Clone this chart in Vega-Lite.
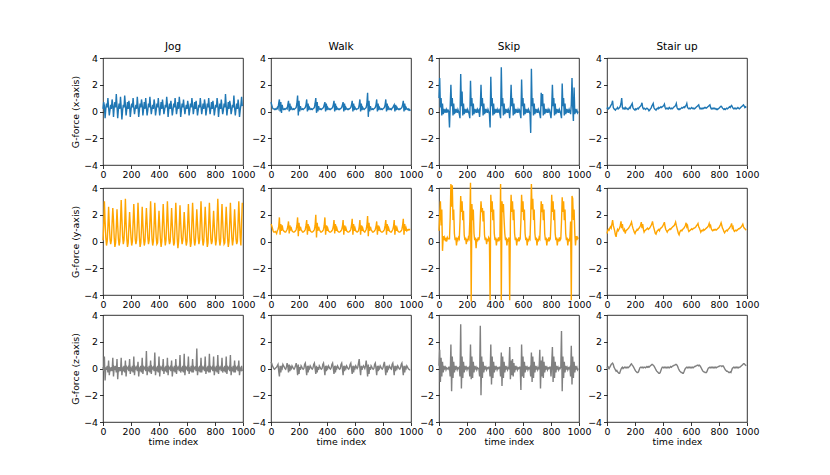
{
  "$schema": "https://vega.github.io/schema/vega-lite/v6.json",
  "background": "white",
  "padding": {"left": 70, "top": 41, "right": 5, "bottom": 5},
  "datasets": {
    "jog": [
      {"t":0,"x":0.2,"y":0.1,"z":0.1},{"t":5,"x":0.7,"y":1.2,"z":-0.2},{"t":10,"x":0.4,"y":3.0,"z":0.9},{"t":15,"x":-0.5,"y":1.5,"z":-0.9},{"t":20,"x":0.2,"y":0.3,"z":0.1},{"t":25,"x":0.6,"y":-0.3,"z":-0.1},
      {"t":30,"x":0.3,"y":0.0,"z":0.2},{"t":35,"x":1.0,"y":1.1,"z":-0.3},{"t":40,"x":0.3,"y":2.6,"z":0.6},{"t":45,"x":-0.3,"y":1.3,"z":-0.5},{"t":50,"x":0.1,"y":0.2,"z":0.0},{"t":55,"x":0.5,"y":-0.2,"z":-0.1},
      {"t":60,"x":0.2,"y":0.1,"z":0.1},{"t":65,"x":0.9,"y":1.4,"z":-0.2},{"t":70,"x":0.5,"y":2.5,"z":0.8},{"t":75,"x":-0.4,"y":1.6,"z":-0.6},{"t":80,"x":0.3,"y":0.3,"z":0.1},{"t":85,"x":0.7,"y":-0.4,"z":0.0},
      {"t":90,"x":0.3,"y":-0.1,"z":0.2},{"t":95,"x":1.3,"y":1.0,"z":-0.3},{"t":100,"x":0.4,"y":2.4,"z":0.7},{"t":105,"x":-0.5,"y":1.2,"z":-0.8},{"t":110,"x":0.2,"y":0.2,"z":0.1},{"t":115,"x":0.6,"y":-0.3,"z":-0.1},
      {"t":120,"x":0.2,"y":0.0,"z":0.1},{"t":125,"x":1.1,"y":1.5,"z":-0.2},{"t":130,"x":0.3,"y":3.1,"z":0.8},{"t":135,"x":-0.6,"y":1.7,"z":-0.5},{"t":140,"x":0.1,"y":0.4,"z":0.0},{"t":145,"x":0.5,"y":-0.2,"z":-0.1},
      {"t":150,"x":0.3,"y":0.1,"z":0.2},{"t":155,"x":1.2,"y":1.3,"z":-0.3},{"t":160,"x":0.5,"y":3.2,"z":0.6},{"t":165,"x":-0.3,"y":1.4,"z":-0.6},{"t":170,"x":0.2,"y":0.2,"z":0.1},{"t":175,"x":0.7,"y":-0.4,"z":0.0},
      {"t":180,"x":0.2,"y":-0.1,"z":0.1},{"t":185,"x":0.8,"y":1.1,"z":-0.2},{"t":190,"x":0.4,"y":2.2,"z":0.7},{"t":195,"x":-0.4,"y":1.2,"z":-0.4},{"t":200,"x":0.1,"y":0.3,"z":0.0},{"t":205,"x":0.6,"y":-0.3,"z":-0.1},
      {"t":210,"x":0.3,"y":0.0,"z":0.2},{"t":215,"x":1.0,"y":1.4,"z":-0.3},{"t":220,"x":0.3,"y":2.8,"z":0.9},{"t":225,"x":-0.2,"y":1.5,"z":-0.5},{"t":230,"x":0.2,"y":0.2,"z":0.1},{"t":235,"x":0.5,"y":-0.2,"z":0.0},
      {"t":240,"x":0.2,"y":0.1,"z":0.1},{"t":245,"x":1.1,"y":1.2,"z":-0.2},{"t":250,"x":0.4,"y":2.9,"z":0.5},{"t":255,"x":-0.4,"y":1.6,"z":-0.6},{"t":260,"x":0.1,"y":0.3,"z":0.0},{"t":265,"x":0.6,"y":-0.4,"z":-0.1},
      {"t":270,"x":0.3,"y":-0.1,"z":0.2},{"t":275,"x":0.9,"y":1.0,"z":-0.3},{"t":280,"x":0.5,"y":2.6,"z":0.8},{"t":285,"x":-0.3,"y":1.3,"z":-0.4},{"t":290,"x":0.2,"y":0.2,"z":0.1},{"t":295,"x":0.7,"y":-0.3,"z":0.0},
      {"t":300,"x":0.2,"y":0.0,"z":0.1},{"t":305,"x":1.0,"y":1.3,"z":-0.2},{"t":310,"x":0.3,"y":2.5,"z":1.3},{"t":315,"x":-0.3,"y":1.4,"z":-0.5},{"t":320,"x":0.1,"y":0.3,"z":0.0},{"t":325,"x":0.6,"y":-0.2,"z":-0.1},
      {"t":330,"x":0.3,"y":0.1,"z":0.2},{"t":335,"x":1.1,"y":1.5,"z":-0.3},{"t":340,"x":0.4,"y":3.0,"z":0.6},{"t":345,"x":-0.2,"y":1.6,"z":-0.4},{"t":350,"x":0.2,"y":0.2,"z":0.1},{"t":355,"x":0.5,"y":-0.3,"z":0.0},
      {"t":360,"x":0.2,"y":0.0,"z":0.1},{"t":365,"x":0.9,"y":1.2,"z":-0.2},{"t":370,"x":0.5,"y":2.9,"z":1.2},{"t":375,"x":-0.3,"y":1.5,"z":-0.5},{"t":380,"x":0.1,"y":0.3,"z":0.0},{"t":385,"x":0.6,"y":-0.2,"z":-0.1},
      {"t":390,"x":0.3,"y":-0.1,"z":0.2},{"t":395,"x":1.0,"y":1.1,"z":-0.3},{"t":400,"x":0.3,"y":2.3,"z":0.9},{"t":405,"x":-0.3,"y":1.2,"z":-0.6},{"t":410,"x":0.2,"y":0.2,"z":0.1},{"t":415,"x":0.7,"y":-0.4,"z":0.0},
      {"t":420,"x":0.2,"y":0.0,"z":0.1},{"t":425,"x":0.9,"y":1.4,"z":-0.2},{"t":430,"x":0.4,"y":2.8,"z":0.7},{"t":435,"x":-0.2,"y":1.5,"z":-0.4},{"t":440,"x":0.1,"y":0.3,"z":0.0},{"t":445,"x":0.5,"y":-0.3,"z":-0.1},
      {"t":450,"x":0.3,"y":0.1,"z":0.2},{"t":455,"x":1.1,"y":1.5,"z":-0.3},{"t":460,"x":0.5,"y":3.0,"z":0.8},{"t":465,"x":-0.4,"y":1.6,"z":-0.5},{"t":470,"x":0.2,"y":0.2,"z":0.1},{"t":475,"x":0.6,"y":-0.2,"z":0.0},
      {"t":480,"x":0.2,"y":0.0,"z":0.1},{"t":485,"x":0.8,"y":1.2,"z":-0.2},{"t":490,"x":0.3,"y":2.5,"z":0.6},{"t":495,"x":-0.3,"y":1.3,"z":-0.6},{"t":500,"x":0.1,"y":0.3,"z":0.0},{"t":505,"x":0.6,"y":-0.3,"z":-0.1},
      {"t":510,"x":0.3,"y":-0.1,"z":0.2},{"t":515,"x":1.0,"y":1.4,"z":-0.3},{"t":520,"x":0.4,"y":2.9,"z":0.7},{"t":525,"x":-0.2,"y":1.5,"z":-0.4},{"t":530,"x":0.2,"y":0.2,"z":0.1},{"t":535,"x":0.7,"y":-0.5,"z":0.0},
      {"t":540,"x":0.2,"y":0.0,"z":0.1},{"t":545,"x":1.1,"y":1.3,"z":-0.2},{"t":550,"x":0.5,"y":2.7,"z":1.0},{"t":555,"x":-0.4,"y":1.4,"z":-0.3},{"t":560,"x":0.1,"y":0.3,"z":0.0},{"t":565,"x":0.6,"y":-0.2,"z":-0.1},
      {"t":570,"x":0.3,"y":0.1,"z":0.2},{"t":575,"x":0.9,"y":1.0,"z":-0.3},{"t":580,"x":0.3,"y":2.2,"z":1.1},{"t":585,"x":-0.2,"y":1.2,"z":-0.5},{"t":590,"x":0.2,"y":0.2,"z":0.1},{"t":595,"x":0.5,"y":-0.3,"z":0.0},
      {"t":600,"x":0.2,"y":0.0,"z":0.1},{"t":605,"x":0.8,"y":1.4,"z":-0.2},{"t":610,"x":0.4,"y":2.8,"z":0.9},{"t":615,"x":-0.3,"y":1.5,"z":-0.4},{"t":620,"x":0.1,"y":0.3,"z":0.0},{"t":625,"x":0.6,"y":-0.4,"z":-0.1},
      {"t":630,"x":0.3,"y":-0.1,"z":0.2},{"t":635,"x":1.0,"y":1.5,"z":-0.3},{"t":640,"x":0.5,"y":2.9,"z":0.7},{"t":645,"x":-0.2,"y":1.6,"z":-0.3},{"t":650,"x":0.2,"y":0.2,"z":0.1},{"t":655,"x":0.7,"y":-0.3,"z":0.0},
      {"t":660,"x":0.2,"y":0.0,"z":0.1},{"t":665,"x":0.8,"y":1.2,"z":-0.2},{"t":670,"x":0.3,"y":2.4,"z":1.5},{"t":675,"x":-0.3,"y":1.3,"z":-0.5},{"t":680,"x":0.1,"y":0.3,"z":0.0},{"t":685,"x":0.5,"y":-0.2,"z":-0.1},
      {"t":690,"x":0.3,"y":0.1,"z":0.2},{"t":695,"x":1.0,"y":1.5,"z":-0.3},{"t":700,"x":0.4,"y":3.0,"z":0.8},{"t":705,"x":-0.2,"y":1.6,"z":-0.3},{"t":710,"x":0.2,"y":0.2,"z":0.1},{"t":715,"x":0.6,"y":-0.3,"z":0.0},
      {"t":720,"x":0.2,"y":0.0,"z":0.1},{"t":725,"x":0.9,"y":1.3,"z":-0.2},{"t":730,"x":0.5,"y":2.6,"z":0.9},{"t":735,"x":-0.3,"y":1.4,"z":-0.4},{"t":740,"x":0.1,"y":0.3,"z":0.0},{"t":745,"x":0.6,"y":-0.4,"z":-0.1},
      {"t":750,"x":0.3,"y":-0.1,"z":0.2},{"t":755,"x":1.0,"y":1.4,"z":-0.3},{"t":760,"x":0.3,"y":2.9,"z":1.1},{"t":765,"x":-0.2,"y":1.5,"z":-0.3},{"t":770,"x":0.2,"y":0.2,"z":0.1},{"t":775,"x":0.7,"y":-0.2,"z":0.0},
      {"t":780,"x":0.2,"y":0.0,"z":0.1},{"t":785,"x":0.8,"y":1.1,"z":-0.2},{"t":790,"x":0.4,"y":2.3,"z":0.9},{"t":795,"x":-0.3,"y":1.2,"z":-0.5},{"t":800,"x":0.1,"y":0.3,"z":0.0},{"t":805,"x":0.5,"y":-0.3,"z":-0.1},
      {"t":810,"x":0.3,"y":0.1,"z":0.2},{"t":815,"x":1.0,"y":1.6,"z":-0.3},{"t":820,"x":0.5,"y":3.2,"z":1.0},{"t":825,"x":-0.4,"y":1.7,"z":-0.4},{"t":830,"x":0.2,"y":0.2,"z":0.1},{"t":835,"x":0.6,"y":-0.3,"z":0.0},
      {"t":840,"x":0.2,"y":0.0,"z":0.1},{"t":845,"x":0.9,"y":1.4,"z":-0.2},{"t":850,"x":0.3,"y":2.8,"z":0.8},{"t":855,"x":-0.2,"y":1.5,"z":-0.3},{"t":860,"x":0.1,"y":0.3,"z":0.0},{"t":865,"x":0.6,"y":-0.2,"z":-0.1},
      {"t":870,"x":0.3,"y":-0.1,"z":0.2},{"t":875,"x":1.3,"y":1.3,"z":-0.3},{"t":880,"x":0.4,"y":2.6,"z":0.9},{"t":885,"x":-0.3,"y":1.4,"z":-0.4},{"t":890,"x":0.2,"y":0.2,"z":0.1},{"t":895,"x":0.7,"y":-0.4,"z":0.0},
      {"t":900,"x":0.2,"y":0.0,"z":0.1},{"t":905,"x":0.8,"y":1.4,"z":-0.2},{"t":910,"x":0.5,"y":2.9,"z":1.0},{"t":915,"x":-0.2,"y":1.5,"z":-0.5},{"t":920,"x":0.1,"y":0.3,"z":0.0},{"t":925,"x":0.5,"y":-0.3,"z":-0.1},
      {"t":930,"x":0.3,"y":0.1,"z":0.2},{"t":935,"x":1.2,"y":1.2,"z":-0.3},{"t":940,"x":0.3,"y":2.4,"z":0.6},{"t":945,"x":-0.3,"y":1.3,"z":-0.3},{"t":950,"x":0.2,"y":0.2,"z":0.1},{"t":955,"x":0.6,"y":-0.2,"z":0.0},
      {"t":960,"x":0.2,"y":0.0,"z":0.1},{"t":965,"x":0.9,"y":1.5,"z":-0.2},{"t":970,"x":0.4,"y":3.0,"z":0.6},{"t":975,"x":-0.4,"y":1.6,"z":-0.5},{"t":980,"x":0.1,"y":0.3,"z":0.0},{"t":985,"x":0.5,"y":-0.3,"z":-0.1},
      {"t":990,"x":1.1,"y":1.4,"z":0.2},{"t":995,"x":0.4,"y":2.9,"z":-0.2}
    ],
    "walk": [
      {"t":0,"x":0.7,"y":1.3,"z":0.5},{"t":5,"x":0.5,"y":1.2,"z":0.4},{"t":10,"x":0.3,"y":1.0,"z":0.2},{"t":15,"x":0.2,"y":0.8,"z":0.1},{"t":20,"x":0.2,"y":0.7,"z":0.0},{"t":25,"x":0.15,"y":0.7,"z":-0.05},
      {"t":30,"x":0.2,"y":0.75,"z":0.0},{"t":35,"x":0.15,"y":0.7,"z":0.05},{"t":40,"x":0.2,"y":0.6,"z":0.1},{"t":45,"x":0.3,"y":0.8,"z":0.2},{"t":50,"x":0.2,"y":0.9,"z":0.3},{"t":55,"x":0.6,"y":1.1,"z":-0.2},
      {"t":60,"x":0.9,"y":1.8,"z":-0.6},{"t":65,"x":0.0,"y":0.5,"z":0.2},{"t":70,"x":0.7,"y":1.3,"z":-0.3},{"t":75,"x":-0.1,"y":0.8,"z":0.1},{"t":80,"x":0.5,"y":1.2,"z":0.0},{"t":85,"x":0.2,"y":0.9,"z":0.3},
      {"t":90,"x":0.15,"y":0.8,"z":0.2},{"t":95,"x":0.2,"y":0.75,"z":0.1},{"t":100,"x":0.15,"y":0.7,"z":0.0},{"t":105,"x":0.2,"y":0.7,"z":-0.05},{"t":110,"x":0.25,"y":0.8,"z":0.1},{"t":115,"x":0.2,"y":0.9,"z":0.4},
      {"t":120,"x":0.5,"y":1.1,"z":0.2},{"t":125,"x":0.8,"y":1.5,"z":-0.3},{"t":130,"x":0.0,"y":0.6,"z":0.3},{"t":135,"x":0.6,"y":1.2,"z":-0.2},{"t":140,"x":0.1,"y":0.9,"z":0.1},{"t":145,"x":0.3,"y":1.0,"z":0.0},
      {"t":150,"x":0.2,"y":0.8,"z":0.2},{"t":155,"x":0.15,"y":0.75,"z":0.1},{"t":160,"x":0.2,"y":0.7,"z":0.0},{"t":165,"x":0.15,"y":0.7,"z":-0.05},{"t":170,"x":0.2,"y":0.75,"z":0.05},{"t":175,"x":0.25,"y":0.8,"z":0.2},
      {"t":180,"x":0.3,"y":0.9,"z":0.4},{"t":185,"x":0.6,"y":1.2,"z":0.1},{"t":190,"x":1.2,"y":1.8,"z":-0.5},{"t":195,"x":-0.3,"y":0.4,"z":0.3},{"t":200,"x":0.8,"y":1.4,"z":-0.4},{"t":205,"x":0.0,"y":0.8,"z":0.1},
      {"t":210,"x":0.4,"y":1.1,"z":-0.1},{"t":215,"x":0.2,"y":0.9,"z":0.2},{"t":220,"x":0.15,"y":0.8,"z":0.1},{"t":225,"x":0.2,"y":0.7,"z":0.0},{"t":230,"x":0.15,"y":0.7,"z":-0.05},{"t":235,"x":0.2,"y":0.75,"z":0.0},
      {"t":240,"x":0.25,"y":0.8,"z":0.3},{"t":245,"x":0.3,"y":0.9,"z":0.4},{"t":250,"x":0.5,"y":1.2,"z":0.0},{"t":255,"x":0.9,"y":1.6,"z":-0.5},{"t":260,"x":0.0,"y":0.5,"z":0.2},{"t":265,"x":0.6,"y":1.3,"z":-0.3},
      {"t":270,"x":0.1,"y":0.8,"z":0.1},{"t":275,"x":0.3,"y":1.0,"z":0.0},{"t":280,"x":0.2,"y":0.8,"z":0.2},{"t":285,"x":0.15,"y":0.75,"z":0.1},{"t":290,"x":0.2,"y":0.7,"z":0.0},{"t":295,"x":0.15,"y":0.7,"z":-0.05},
      {"t":300,"x":0.2,"y":0.75,"z":0.05},{"t":305,"x":0.25,"y":0.8,"z":0.3},{"t":310,"x":0.3,"y":0.9,"z":0.4},{"t":315,"x":0.6,"y":1.2,"z":0.0},{"t":320,"x":1.0,"y":2.0,"z":-0.4},{"t":325,"x":-0.1,"y":0.3,"z":0.2},
      {"t":330,"x":0.7,"y":1.4,"z":-0.3},{"t":335,"x":0.0,"y":0.8,"z":0.1},{"t":340,"x":0.4,"y":1.1,"z":-0.1},{"t":345,"x":0.2,"y":0.9,"z":0.2},{"t":350,"x":0.15,"y":0.8,"z":0.1},{"t":355,"x":0.2,"y":0.7,"z":0.0},
      {"t":360,"x":0.15,"y":0.7,"z":-0.05},{"t":365,"x":0.2,"y":0.75,"z":0.0},{"t":370,"x":0.25,"y":0.8,"z":0.3},{"t":375,"x":0.3,"y":0.9,"z":0.4},{"t":380,"x":0.5,"y":1.2,"z":0.0},{"t":385,"x":0.7,"y":1.8,"z":-0.5},
      {"t":390,"x":0.0,"y":0.5,"z":0.2},{"t":395,"x":0.6,"y":1.2,"z":-0.2},{"t":400,"x":0.1,"y":0.8,"z":0.1},{"t":405,"x":0.3,"y":1.0,"z":0.0},{"t":410,"x":0.2,"y":0.8,"z":0.2},{"t":415,"x":0.15,"y":0.75,"z":0.1},
      {"t":420,"x":0.2,"y":0.7,"z":0.0},{"t":425,"x":0.15,"y":0.7,"z":-0.05},{"t":430,"x":0.2,"y":0.75,"z":0.05},{"t":435,"x":0.25,"y":0.8,"z":0.3},{"t":440,"x":0.3,"y":0.9,"z":0.4},{"t":445,"x":0.5,"y":1.1,"z":0.0},
      {"t":450,"x":0.8,"y":1.6,"z":-0.4},{"t":455,"x":0.0,"y":0.6,"z":0.2},{"t":460,"x":0.6,"y":1.3,"z":-0.3},{"t":465,"x":0.1,"y":0.8,"z":0.1},{"t":470,"x":0.3,"y":1.0,"z":0.0},{"t":475,"x":0.2,"y":0.8,"z":0.2},
      {"t":480,"x":0.15,"y":0.75,"z":0.1},{"t":485,"x":0.2,"y":0.7,"z":0.0},{"t":490,"x":0.15,"y":0.7,"z":-0.05},{"t":495,"x":0.2,"y":0.75,"z":0.0},{"t":500,"x":0.25,"y":0.8,"z":0.3},{"t":505,"x":0.3,"y":0.9,"z":0.4},
      {"t":510,"x":0.5,"y":1.1,"z":0.0},{"t":515,"x":0.7,"y":1.6,"z":-0.5},{"t":520,"x":0.0,"y":0.5,"z":0.2},{"t":525,"x":0.6,"y":1.2,"z":-0.2},{"t":530,"x":0.1,"y":0.8,"z":0.1},{"t":535,"x":0.3,"y":1.0,"z":0.0},
      {"t":540,"x":0.2,"y":0.8,"z":0.2},{"t":545,"x":0.15,"y":0.75,"z":0.1},{"t":550,"x":0.2,"y":0.7,"z":0.0},{"t":555,"x":0.15,"y":0.7,"z":-0.05},{"t":560,"x":0.2,"y":0.75,"z":0.05},{"t":565,"x":0.25,"y":0.8,"z":0.3},
      {"t":570,"x":0.3,"y":0.9,"z":0.4},{"t":575,"x":0.5,"y":1.2,"z":0.0},{"t":580,"x":0.8,"y":1.7,"z":-0.4},{"t":585,"x":0.0,"y":0.5,"z":0.2},{"t":590,"x":0.6,"y":1.3,"z":-0.3},{"t":595,"x":0.1,"y":0.8,"z":0.1},
      {"t":600,"x":0.3,"y":1.0,"z":0.0},{"t":605,"x":0.2,"y":0.8,"z":0.2},{"t":610,"x":0.15,"y":0.75,"z":0.1},{"t":615,"x":0.2,"y":0.7,"z":0.0},{"t":620,"x":0.2,"y":0.75,"z":0.1},{"t":625,"x":0.25,"y":0.8,"z":0.4},
      {"t":630,"x":0.5,"y":1.1,"z":0.7},{"t":635,"x":0.9,"y":1.6,"z":0.0},{"t":640,"x":0.0,"y":0.5,"z":-0.5},{"t":645,"x":0.6,"y":1.2,"z":0.2},{"t":650,"x":0.1,"y":0.8,"z":-0.1},{"t":655,"x":0.3,"y":1.0,"z":0.1},
      {"t":660,"x":0.2,"y":0.8,"z":0.2},{"t":665,"x":0.15,"y":0.75,"z":0.1},{"t":670,"x":0.2,"y":0.7,"z":0.0},{"t":675,"x":0.25,"y":0.8,"z":0.2},{"t":680,"x":0.3,"y":0.9,"z":0.6},{"t":685,"x":0.6,"y":1.2,"z":0.1},
      {"t":690,"x":1.4,"y":1.9,"z":-0.6},{"t":695,"x":-0.4,"y":0.4,"z":0.3},{"t":700,"x":0.8,"y":1.4,"z":-0.4},{"t":705,"x":0.0,"y":0.8,"z":0.1},{"t":710,"x":0.4,"y":1.1,"z":-0.1},{"t":715,"x":0.2,"y":0.9,"z":0.2},
      {"t":720,"x":0.15,"y":0.8,"z":0.1},{"t":725,"x":0.2,"y":0.7,"z":0.0},{"t":730,"x":0.15,"y":0.7,"z":-0.05},{"t":735,"x":0.2,"y":0.75,"z":0.0},{"t":740,"x":0.25,"y":0.8,"z":0.3},{"t":745,"x":0.3,"y":0.9,"z":0.4},
      {"t":750,"x":0.5,"y":1.1,"z":0.0},{"t":755,"x":0.9,"y":1.5,"z":-0.5},{"t":760,"x":0.0,"y":0.5,"z":0.2},{"t":765,"x":0.6,"y":1.2,"z":-0.2},{"t":770,"x":0.1,"y":0.8,"z":0.1},{"t":775,"x":0.3,"y":1.0,"z":0.0},
      {"t":780,"x":0.2,"y":0.8,"z":0.2},{"t":785,"x":0.15,"y":0.75,"z":0.1},{"t":790,"x":0.2,"y":0.7,"z":0.0},{"t":795,"x":0.15,"y":0.7,"z":-0.05},{"t":800,"x":0.2,"y":0.75,"z":0.05},{"t":805,"x":0.25,"y":0.8,"z":0.3},
      {"t":810,"x":0.3,"y":0.9,"z":0.5},{"t":815,"x":0.5,"y":1.2,"z":0.0},{"t":820,"x":0.9,"y":1.6,"z":-0.5},{"t":825,"x":0.0,"y":0.5,"z":0.2},{"t":830,"x":0.6,"y":1.3,"z":-0.3},{"t":835,"x":0.1,"y":0.8,"z":0.1},
      {"t":840,"x":0.3,"y":1.0,"z":0.0},{"t":845,"x":0.2,"y":0.8,"z":0.2},{"t":850,"x":0.15,"y":0.75,"z":0.1},{"t":855,"x":0.2,"y":0.7,"z":0.0},{"t":860,"x":0.15,"y":0.7,"z":-0.05},{"t":865,"x":0.25,"y":0.8,"z":0.3},
      {"t":870,"x":0.3,"y":0.9,"z":0.4},{"t":875,"x":0.4,"y":1.1,"z":0.0},{"t":880,"x":0.5,"y":1.6,"z":-0.5},{"t":885,"x":0.0,"y":0.5,"z":0.2},{"t":890,"x":0.5,"y":1.2,"z":-0.2},{"t":895,"x":0.1,"y":0.8,"z":0.1},
      {"t":900,"x":0.3,"y":1.0,"z":0.0},{"t":905,"x":0.2,"y":0.8,"z":0.2},{"t":910,"x":0.15,"y":0.75,"z":0.1},{"t":915,"x":0.2,"y":0.7,"z":0.0},{"t":920,"x":0.15,"y":0.7,"z":-0.05},{"t":925,"x":0.2,"y":0.75,"z":0.05},
      {"t":930,"x":0.25,"y":0.8,"z":0.3},{"t":935,"x":0.3,"y":0.9,"z":0.4},{"t":940,"x":0.5,"y":1.2,"z":0.0},{"t":945,"x":0.8,"y":1.7,"z":-0.5},{"t":950,"x":0.0,"y":0.5,"z":0.2},{"t":955,"x":0.6,"y":1.3,"z":-0.3},
      {"t":960,"x":0.1,"y":0.8,"z":0.1},{"t":965,"x":0.3,"y":1.0,"z":0.0},{"t":970,"x":0.2,"y":0.8,"z":0.2},{"t":975,"x":0.15,"y":0.85,"z":0.1},{"t":980,"x":0.2,"y":0.9,"z":0.0},{"t":985,"x":0.1,"y":0.85,"z":-0.05},
      {"t":990,"x":0.15,"y":0.9,"z":-0.1},{"t":995,"x":0.05,"y":0.9,"z":-0.1}
    ],
    "skip": [
      {"t":0,"x":1.0,"y":0.8,"z":0.2},{"t":5,"x":2.5,"y":2.0,"z":1.4},{"t":10,"x":0.3,"y":3.0,"z":-1.0},{"t":15,"x":1.0,"y":1.2,"z":0.8},{"t":20,"x":-0.3,"y":2.4,"z":-0.6},{"t":25,"x":0.6,"y":-0.7,"z":0.5},
      {"t":30,"x":-0.2,"y":0.4,"z":-0.3},{"t":35,"x":0.2,"y":0.1,"z":0.2},{"t":40,"x":0.0,"y":0.3,"z":0.0},{"t":45,"x":0.1,"y":0.1,"z":0.1},{"t":50,"x":-0.1,"y":0.2,"z":-0.1},{"t":55,"x":0.15,"y":0.0,"z":0.05},
      {"t":60,"x":0.0,"y":0.3,"z":0.0},{"t":65,"x":0.1,"y":0.2,"z":-0.05},{"t":70,"x":0.0,"y":0.2,"z":0.1},{"t":75,"x":-1.2,"y":0.2,"z":0.1},{"t":80,"x":0.4,"y":1.8,"z":-0.6},{"t":85,"x":2.0,"y":4.3,"z":1.8},
      {"t":90,"x":0.4,"y":2.6,"z":-1.7},{"t":95,"x":1.0,"y":4.2,"z":0.9},{"t":100,"x":-0.3,"y":1.6,"z":-0.7},{"t":105,"x":0.6,"y":2.4,"z":0.5},{"t":110,"x":-0.2,"y":0.6,"z":-0.3},{"t":115,"x":0.2,"y":0.1,"z":0.2},
      {"t":120,"x":0.0,"y":0.3,"z":0.0},{"t":125,"x":0.1,"y":-0.3,"z":0.1},{"t":130,"x":-0.1,"y":0.2,"z":-0.1},{"t":135,"x":0.15,"y":0.1,"z":0.05},{"t":140,"x":0.0,"y":0.3,"z":0.0},{"t":145,"x":-0.2,"y":0.2,"z":0.1},
      {"t":150,"x":-0.5,"y":1.5,"z":-0.6},{"t":155,"x":2.8,"y":3.4,"z":3.3},{"t":160,"x":0.4,"y":2.2,"z":-1.5},{"t":165,"x":1.5,"y":3.0,"z":0.9},{"t":170,"x":-0.3,"y":1.6,"z":-0.7},{"t":175,"x":0.6,"y":2.3,"z":0.5},
      {"t":180,"x":-0.2,"y":0.5,"z":-0.3},{"t":185,"x":0.2,"y":0.1,"z":0.2},{"t":190,"x":0.0,"y":0.3,"z":0.0},{"t":195,"x":0.1,"y":-0.2,"z":0.1},{"t":200,"x":-0.1,"y":0.2,"z":-0.1},{"t":205,"x":0.15,"y":0.0,"z":0.05},
      {"t":210,"x":0.0,"y":0.3,"z":0.0},{"t":215,"x":-0.2,"y":0.2,"z":0.1},{"t":220,"x":-0.5,"y":1.5,"z":-0.6},{"t":225,"x":2.3,"y":4.4,"z":1.8},{"t":230,"x":0.4,"y":-4.5,"z":-0.8},{"t":235,"x":1.0,"y":2.8,"z":0.9},
      {"t":240,"x":-0.3,"y":1.6,"z":-0.7},{"t":245,"x":0.6,"y":2.4,"z":0.5},{"t":250,"x":-0.2,"y":0.6,"z":-0.3},{"t":255,"x":0.2,"y":0.1,"z":0.2},{"t":260,"x":0.0,"y":0.3,"z":0.0},{"t":265,"x":0.1,"y":-0.5,"z":0.1},
      {"t":270,"x":-0.1,"y":0.2,"z":-0.1},{"t":275,"x":0.15,"y":0.0,"z":0.05},{"t":280,"x":0.0,"y":0.3,"z":0.0},{"t":285,"x":0.1,"y":0.1,"z":0.0},{"t":290,"x":-0.4,"y":0.4,"z":-0.6},{"t":295,"x":0.3,"y":1.8,"z":3.2},
      {"t":300,"x":2.0,"y":3.0,"z":-2.0},{"t":305,"x":0.4,"y":2.2,"z":0.9},{"t":310,"x":1.0,"y":2.5,"z":-0.7},{"t":315,"x":-0.3,"y":1.5,"z":0.5},{"t":320,"x":0.6,"y":2.3,"z":-0.3},{"t":325,"x":-0.2,"y":0.5,"z":0.2},
      {"t":330,"x":0.2,"y":0.1,"z":0.0},{"t":335,"x":0.0,"y":0.3,"z":0.1},{"t":340,"x":0.1,"y":-0.2,"z":-0.1},{"t":345,"x":-0.1,"y":0.2,"z":0.05},{"t":350,"x":0.15,"y":0.0,"z":0.0},{"t":355,"x":0.0,"y":0.3,"z":0.1},
      {"t":360,"x":-0.2,"y":0.2,"z":0.1},{"t":365,"x":-1.2,"y":-4.4,"z":-0.6},{"t":370,"x":2.6,"y":3.5,"z":1.8},{"t":375,"x":0.4,"y":2.2,"z":-1.2},{"t":380,"x":1.0,"y":3.0,"z":0.9},{"t":385,"x":-0.3,"y":1.6,"z":-0.7},
      {"t":390,"x":0.6,"y":2.4,"z":0.5},{"t":395,"x":-0.2,"y":0.6,"z":-0.3},{"t":400,"x":0.2,"y":0.1,"z":0.2},{"t":405,"x":0.0,"y":0.3,"z":0.0},{"t":410,"x":0.1,"y":-0.3,"z":0.1},{"t":415,"x":-0.1,"y":0.2,"z":-0.1},
      {"t":420,"x":0.15,"y":0.0,"z":0.05},{"t":425,"x":0.0,"y":0.3,"z":0.0},{"t":430,"x":0.1,"y":0.1,"z":0.1},{"t":435,"x":-0.2,"y":0.2,"z":0.1},{"t":440,"x":-0.5,"y":4.3,"z":-0.6},{"t":445,"x":3.3,"y":-4.4,"z":1.2},
      {"t":450,"x":0.4,"y":3.0,"z":-1.3},{"t":455,"x":1.0,"y":2.2,"z":0.9},{"t":460,"x":-0.3,"y":2.8,"z":-0.7},{"t":465,"x":0.6,"y":1.6,"z":0.5},{"t":470,"x":-0.2,"y":0.6,"z":-0.3},{"t":475,"x":0.2,"y":0.1,"z":0.2},
      {"t":480,"x":0.0,"y":0.3,"z":0.0},{"t":485,"x":0.1,"y":-0.3,"z":0.1},{"t":490,"x":-0.1,"y":0.2,"z":-0.1},{"t":495,"x":0.15,"y":0.0,"z":0.05},{"t":500,"x":0.0,"y":0.3,"z":0.0},{"t":505,"x":-0.5,"y":-4.4,"z":1.6},
      {"t":510,"x":0.4,"y":1.5,"z":-0.8},{"t":515,"x":2.0,"y":3.5,"z":0.6},{"t":520,"x":0.4,"y":2.2,"z":-0.5},{"t":525,"x":1.0,"y":3.0,"z":0.7},{"t":530,"x":-0.3,"y":1.6,"z":-0.6},{"t":535,"x":0.6,"y":2.4,"z":0.4},
      {"t":540,"x":-0.2,"y":0.6,"z":-0.3},{"t":545,"x":0.2,"y":0.1,"z":0.2},{"t":550,"x":0.0,"y":0.3,"z":0.0},{"t":555,"x":0.1,"y":-0.3,"z":0.1},{"t":560,"x":-0.1,"y":0.2,"z":-0.1},{"t":565,"x":0.15,"y":0.0,"z":0.05},
      {"t":570,"x":0.0,"y":0.3,"z":0.0},{"t":575,"x":0.1,"y":0.1,"z":0.1},{"t":580,"x":-0.2,"y":0.2,"z":0.1},{"t":585,"x":-0.5,"y":1.5,"z":-1.6},{"t":590,"x":2.4,"y":3.5,"z":1.8},{"t":595,"x":0.4,"y":2.2,"z":-0.6},
      {"t":600,"x":1.0,"y":3.0,"z":0.9},{"t":605,"x":-0.3,"y":1.6,"z":-0.7},{"t":610,"x":0.6,"y":2.4,"z":0.5},{"t":615,"x":-0.2,"y":0.6,"z":-0.3},{"t":620,"x":0.2,"y":0.1,"z":0.2},{"t":625,"x":0.0,"y":0.3,"z":0.0},
      {"t":630,"x":0.1,"y":-0.3,"z":0.1},{"t":635,"x":-0.1,"y":0.2,"z":-0.1},{"t":640,"x":0.15,"y":0.0,"z":0.05},{"t":645,"x":0.0,"y":0.3,"z":0.0},{"t":650,"x":-0.2,"y":0.2,"z":0.1},{"t":655,"x":-1.6,"y":1.8,"z":-0.6},
      {"t":660,"x":3.2,"y":4.3,"z":1.2},{"t":665,"x":0.4,"y":2.4,"z":-1.0},{"t":670,"x":1.0,"y":3.2,"z":0.9},{"t":675,"x":-0.3,"y":1.6,"z":-0.7},{"t":680,"x":0.6,"y":2.4,"z":0.5},{"t":685,"x":-0.2,"y":0.6,"z":-0.3},
      {"t":690,"x":0.2,"y":0.1,"z":0.2},{"t":695,"x":0.0,"y":0.3,"z":0.0},{"t":700,"x":0.1,"y":-0.3,"z":0.1},{"t":705,"x":-0.1,"y":0.2,"z":-0.1},{"t":710,"x":0.15,"y":0.0,"z":0.05},{"t":715,"x":0.0,"y":0.3,"z":0.0},
      {"t":720,"x":-0.2,"y":0.2,"z":1.4},{"t":725,"x":-0.5,"y":1.5,"z":-1.5},{"t":730,"x":1.4,"y":3.0,"z":0.6},{"t":735,"x":0.4,"y":2.2,"z":-0.6},{"t":740,"x":1.3,"y":2.8,"z":0.9},{"t":745,"x":-0.3,"y":1.6,"z":-0.7},
      {"t":750,"x":0.6,"y":2.4,"z":0.5},{"t":755,"x":-0.2,"y":0.6,"z":-0.3},{"t":760,"x":0.2,"y":0.1,"z":0.2},{"t":765,"x":0.0,"y":0.3,"z":0.0},{"t":770,"x":0.1,"y":-0.3,"z":0.1},{"t":775,"x":-0.1,"y":0.2,"z":-0.1},
      {"t":780,"x":0.15,"y":0.0,"z":0.05},{"t":785,"x":0.0,"y":0.3,"z":0.0},{"t":790,"x":0.1,"y":0.1,"z":0.1},{"t":795,"x":-0.2,"y":0.2,"z":0.1},{"t":800,"x":-0.5,"y":1.5,"z":-0.6},{"t":805,"x":0.3,"y":3.5,"z":0.3},
      {"t":810,"x":2.0,"y":2.2,"z":1.6},{"t":815,"x":0.4,"y":3.0,"z":-1.0},{"t":820,"x":1.0,"y":1.6,"z":0.9},{"t":825,"x":-0.3,"y":2.4,"z":-0.7},{"t":830,"x":0.6,"y":0.6,"z":0.5},{"t":835,"x":-0.2,"y":0.1,"z":-0.3},
      {"t":840,"x":0.2,"y":0.3,"z":0.2},{"t":845,"x":0.0,"y":-0.3,"z":0.0},{"t":850,"x":0.1,"y":0.2,"z":0.1},{"t":855,"x":-0.1,"y":0.0,"z":-0.1},{"t":860,"x":0.15,"y":0.3,"z":0.05},{"t":865,"x":0.0,"y":0.1,"z":0.0},
      {"t":870,"x":-0.2,"y":0.2,"z":0.1},{"t":875,"x":-0.5,"y":1.5,"z":2.8},{"t":880,"x":2.1,"y":3.3,"z":-1.7},{"t":885,"x":0.4,"y":2.2,"z":0.9},{"t":890,"x":1.0,"y":3.0,"z":-0.7},{"t":895,"x":-0.3,"y":1.6,"z":0.5},
      {"t":900,"x":0.6,"y":2.4,"z":-0.3},{"t":905,"x":-0.2,"y":0.6,"z":0.2},{"t":910,"x":0.2,"y":0.1,"z":0.0},{"t":915,"x":0.0,"y":0.3,"z":0.1},{"t":920,"x":0.1,"y":-0.3,"z":-0.1},{"t":925,"x":-0.1,"y":0.2,"z":0.05},
      {"t":930,"x":0.15,"y":0.0,"z":0.0},{"t":935,"x":0.0,"y":0.3,"z":0.1},{"t":940,"x":-0.2,"y":1.5,"z":-0.6},{"t":945,"x":0.5,"y":-4.4,"z":1.7},{"t":950,"x":2.5,"y":3.4,"z":-1.2},{"t":955,"x":0.4,"y":3.2,"z":0.9},
      {"t":960,"x":-0.7,"y":1.6,"z":-0.7},{"t":965,"x":1.8,"y":2.4,"z":0.5},{"t":970,"x":-0.2,"y":0.6,"z":-0.3},{"t":975,"x":0.2,"y":-0.3,"z":0.2},{"t":980,"x":0.0,"y":0.4,"z":0.0},{"t":985,"x":0.1,"y":0.1,"z":0.1},
      {"t":990,"x":-0.1,"y":0.3,"z":-0.1},{"t":995,"x":0.0,"y":0.2,"z":0.0}
    ],
    "stair": [
      {"t":0,"x":0.2,"y":0.6,"z":0.1},{"t":5,"x":0.3,"y":0.8,"z":0.0},{"t":10,"x":0.2,"y":0.9,"z":0.1},{"t":15,"x":0.25,"y":0.85,"z":0.0},{"t":20,"x":0.3,"y":1.0,"z":0.1},{"t":25,"x":0.4,"y":1.1,"z":0.2},
      {"t":30,"x":0.5,"y":1.0,"z":0.3},{"t":35,"x":0.6,"y":1.3,"z":0.35},{"t":40,"x":0.8,"y":1.6,"z":0.4},{"t":45,"x":0.3,"y":1.2,"z":0.3},{"t":50,"x":0.2,"y":1.0,"z":0.1},{"t":55,"x":0.15,"y":0.8,"z":0.0},
      {"t":60,"x":0.1,"y":0.5,"z":-0.1},{"t":65,"x":0.2,"y":0.35,"z":-0.2},{"t":70,"x":0.2,"y":0.7,"z":-0.15},{"t":75,"x":0.3,"y":0.9,"z":-0.25},{"t":80,"x":0.2,"y":0.8,"z":-0.3},{"t":85,"x":0.25,"y":0.9,"z":-0.35},
      {"t":90,"x":0.3,"y":1.0,"z":-0.35},{"t":95,"x":0.4,"y":1.2,"z":-0.2},{"t":100,"x":0.6,"y":1.5,"z":-0.05},{"t":105,"x":1.0,"y":1.0,"z":0.05},{"t":110,"x":0.3,"y":1.3,"z":0.1},{"t":115,"x":0.2,"y":0.9,"z":0.0},
      {"t":120,"x":0.25,"y":0.8,"z":0.05},{"t":125,"x":0.2,"y":0.9,"z":0.1},{"t":130,"x":0.3,"y":0.6,"z":0.05},{"t":135,"x":0.2,"y":0.8,"z":0.1},{"t":140,"x":0.25,"y":0.85,"z":0.05},{"t":145,"x":0.2,"y":0.9,"z":0.1},
      {"t":150,"x":0.15,"y":0.95,"z":0.05},{"t":155,"x":0.2,"y":1.0,"z":0.1},{"t":160,"x":0.3,"y":1.1,"z":0.15},{"t":165,"x":0.25,"y":1.2,"z":0.2},{"t":170,"x":0.4,"y":1.3,"z":0.3},{"t":175,"x":0.5,"y":1.45,"z":0.35},
      {"t":180,"x":0.6,"y":1.2,"z":0.25},{"t":185,"x":0.3,"y":1.0,"z":0.2},{"t":190,"x":0.2,"y":0.85,"z":0.1},{"t":195,"x":0.15,"y":0.7,"z":0.0},{"t":200,"x":0.1,"y":0.6,"z":-0.1},{"t":205,"x":0.2,"y":0.75,"z":-0.2},
      {"t":210,"x":0.15,"y":0.8,"z":-0.25},{"t":215,"x":0.2,"y":0.9,"z":-0.3},{"t":220,"x":0.25,"y":0.85,"z":-0.3},{"t":225,"x":0.2,"y":0.95,"z":-0.25},{"t":230,"x":0.3,"y":1.0,"z":-0.1},{"t":235,"x":0.35,"y":1.1,"z":0.05},
      {"t":240,"x":0.4,"y":1.2,"z":0.1},{"t":245,"x":0.5,"y":1.45,"z":0.1},{"t":250,"x":0.65,"y":1.0,"z":0.05},{"t":255,"x":0.3,"y":1.3,"z":0.1},{"t":260,"x":0.2,"y":0.9,"z":0.05},{"t":265,"x":0.25,"y":0.7,"z":0.1},
      {"t":270,"x":0.2,"y":0.8,"z":0.1},{"t":275,"x":0.15,"y":0.85,"z":0.05},{"t":280,"x":0.2,"y":0.9,"z":0.1},{"t":285,"x":0.25,"y":0.95,"z":0.15},{"t":290,"x":0.2,"y":1.0,"z":0.1},{"t":295,"x":0.15,"y":0.9,"z":0.15},
      {"t":300,"x":0.05,"y":0.95,"z":0.1},{"t":305,"x":0.1,"y":1.0,"z":0.15},{"t":310,"x":0.2,"y":1.1,"z":0.2},{"t":315,"x":0.25,"y":1.2,"z":0.25},{"t":320,"x":0.4,"y":1.3,"z":0.3},{"t":325,"x":0.5,"y":1.5,"z":0.3},
      {"t":330,"x":0.6,"y":1.2,"z":0.25},{"t":335,"x":0.3,"y":1.0,"z":0.2},{"t":340,"x":0.2,"y":0.8,"z":0.1},{"t":345,"x":0.15,"y":0.6,"z":0.0},{"t":350,"x":0.1,"y":0.55,"z":-0.1},{"t":355,"x":0.2,"y":0.7,"z":-0.2},
      {"t":360,"x":0.25,"y":0.8,"z":-0.25},{"t":365,"x":0.2,"y":0.85,"z":-0.3},{"t":370,"x":0.3,"y":0.9,"z":-0.35},{"t":375,"x":0.25,"y":0.8,"z":-0.35},{"t":380,"x":0.3,"y":0.95,"z":-0.3},{"t":385,"x":0.35,"y":1.0,"z":-0.15},
      {"t":390,"x":0.3,"y":1.05,"z":0.0},{"t":395,"x":0.35,"y":1.1,"z":0.1},{"t":400,"x":0.4,"y":1.2,"z":0.1},{"t":405,"x":0.45,"y":1.3,"z":0.05},{"t":410,"x":0.55,"y":1.45,"z":0.1},{"t":415,"x":0.3,"y":1.1,"z":0.05},
      {"t":420,"x":0.2,"y":0.9,"z":0.1},{"t":425,"x":0.25,"y":0.8,"z":0.05},{"t":430,"x":0.2,"y":0.7,"z":0.1},{"t":435,"x":0.25,"y":0.8,"z":0.05},{"t":440,"x":0.2,"y":0.85,"z":0.1},{"t":445,"x":0.3,"y":0.9,"z":0.05},
      {"t":450,"x":0.25,"y":0.95,"z":0.1},{"t":455,"x":0.2,"y":0.9,"z":0.15},{"t":460,"x":0.25,"y":1.0,"z":0.1},{"t":465,"x":0.2,"y":1.05,"z":0.15},{"t":470,"x":0.25,"y":1.1,"z":0.2},{"t":475,"x":0.3,"y":1.15,"z":0.2},
      {"t":480,"x":0.35,"y":1.2,"z":0.25},{"t":485,"x":0.4,"y":1.3,"z":0.25},{"t":490,"x":0.45,"y":1.45,"z":0.3},{"t":495,"x":0.6,"y":1.2,"z":0.3},{"t":500,"x":0.3,"y":1.0,"z":0.25},{"t":505,"x":0.2,"y":0.8,"z":0.15},
      {"t":510,"x":0.15,"y":0.6,"z":0.0},{"t":515,"x":0.2,"y":0.5,"z":-0.1},{"t":520,"x":0.15,"y":0.7,"z":-0.2},{"t":525,"x":0.2,"y":0.8,"z":-0.25},{"t":530,"x":0.25,"y":0.85,"z":-0.3},{"t":535,"x":0.3,"y":0.8,"z":-0.3},
      {"t":540,"x":0.25,"y":0.9,"z":-0.35},{"t":545,"x":0.3,"y":0.95,"z":-0.35},{"t":550,"x":0.35,"y":1.0,"z":-0.25},{"t":555,"x":0.3,"y":1.1,"z":-0.1},{"t":560,"x":0.4,"y":1.2,"z":0.0},{"t":565,"x":0.45,"y":1.4,"z":0.05},
      {"t":570,"x":0.6,"y":1.1,"z":0.1},{"t":575,"x":0.3,"y":1.2,"z":0.05},{"t":580,"x":0.25,"y":0.9,"z":0.1},{"t":585,"x":0.2,"y":0.75,"z":0.05},{"t":590,"x":0.25,"y":0.8,"z":0.1},{"t":595,"x":0.2,"y":0.85,"z":0.05},
      {"t":600,"x":0.25,"y":0.9,"z":0.1},{"t":605,"x":0.3,"y":0.95,"z":0.05},{"t":610,"x":0.25,"y":0.9,"z":0.1},{"t":615,"x":0.2,"y":0.95,"z":0.05},{"t":620,"x":0.25,"y":1.0,"z":0.1},{"t":625,"x":0.2,"y":1.0,"z":0.15},
      {"t":630,"x":0.25,"y":1.05,"z":0.15},{"t":635,"x":0.3,"y":1.1,"z":0.2},{"t":640,"x":0.35,"y":1.2,"z":0.2},{"t":645,"x":0.4,"y":1.25,"z":0.25},{"t":650,"x":0.45,"y":1.35,"z":0.25},{"t":655,"x":0.5,"y":1.1,"z":0.2},
      {"t":660,"x":0.3,"y":1.0,"z":0.25},{"t":665,"x":0.2,"y":0.85,"z":0.2},{"t":670,"x":0.25,"y":0.7,"z":0.1},{"t":675,"x":0.2,"y":0.8,"z":0.0},{"t":680,"x":0.25,"y":0.85,"z":-0.1},{"t":685,"x":0.2,"y":0.8,"z":-0.2},
      {"t":690,"x":0.25,"y":0.9,"z":-0.25},{"t":695,"x":0.3,"y":0.85,"z":-0.25},{"t":700,"x":0.25,"y":0.9,"z":-0.3},{"t":705,"x":0.3,"y":0.95,"z":-0.3},{"t":710,"x":0.25,"y":1.0,"z":-0.3},{"t":715,"x":0.3,"y":1.05,"z":-0.2},
      {"t":720,"x":0.35,"y":1.1,"z":-0.05},{"t":725,"x":0.4,"y":1.2,"z":0.05},{"t":730,"x":0.45,"y":1.35,"z":0.05},{"t":735,"x":0.5,"y":1.1,"z":0.1},{"t":740,"x":0.3,"y":1.2,"z":0.05},{"t":745,"x":0.2,"y":0.95,"z":0.1},
      {"t":750,"x":0.25,"y":0.85,"z":0.05},{"t":755,"x":0.2,"y":0.8,"z":0.1},{"t":760,"x":0.25,"y":0.85,"z":0.05},{"t":765,"x":0.2,"y":0.9,"z":0.1},{"t":770,"x":0.25,"y":0.85,"z":0.05},{"t":775,"x":0.2,"y":0.9,"z":0.1},
      {"t":780,"x":0.15,"y":0.85,"z":0.05},{"t":785,"x":0.2,"y":0.9,"z":0.1},{"t":790,"x":0.15,"y":0.95,"z":0.1},{"t":795,"x":0.2,"y":1.0,"z":0.15},{"t":800,"x":0.25,"y":1.05,"z":0.15},{"t":805,"x":0.3,"y":1.15,"z":0.2},
      {"t":810,"x":0.35,"y":1.25,"z":0.2},{"t":815,"x":0.4,"y":1.4,"z":0.2},{"t":820,"x":0.35,"y":1.2,"z":0.15},{"t":825,"x":0.25,"y":1.0,"z":0.2},{"t":830,"x":0.2,"y":0.9,"z":0.2},{"t":835,"x":0.15,"y":0.75,"z":0.1},
      {"t":840,"x":0.2,"y":0.65,"z":0.0},{"t":845,"x":0.15,"y":0.75,"z":-0.1},{"t":850,"x":0.2,"y":0.8,"z":-0.15},{"t":855,"x":0.25,"y":0.85,"z":-0.2},{"t":860,"x":0.2,"y":0.8,"z":-0.2},{"t":865,"x":0.25,"y":0.9,"z":-0.25},
      {"t":870,"x":0.3,"y":0.95,"z":-0.3},{"t":875,"x":0.35,"y":1.0,"z":-0.3},{"t":880,"x":0.3,"y":1.1,"z":-0.25},{"t":885,"x":0.4,"y":1.2,"z":-0.3},{"t":890,"x":0.45,"y":1.35,"z":-0.15},{"t":895,"x":0.35,"y":1.0,"z":0.0},
      {"t":900,"x":0.25,"y":1.1,"z":0.05},{"t":905,"x":0.2,"y":0.85,"z":0.1},{"t":910,"x":0.25,"y":0.75,"z":0.05},{"t":915,"x":0.2,"y":0.8,"z":0.1},{"t":920,"x":0.25,"y":0.85,"z":0.05},{"t":925,"x":0.2,"y":0.8,"z":0.1},
      {"t":930,"x":0.25,"y":0.85,"z":0.05},{"t":935,"x":0.3,"y":0.9,"z":0.1},{"t":940,"x":0.25,"y":0.95,"z":0.05},{"t":945,"x":0.2,"y":0.95,"z":0.1},{"t":950,"x":0.25,"y":1.0,"z":0.1},{"t":955,"x":0.3,"y":1.05,"z":0.15},
      {"t":960,"x":0.35,"y":1.1,"z":0.2},{"t":965,"x":0.4,"y":1.2,"z":0.25},{"t":970,"x":0.45,"y":1.3,"z":0.3},{"t":975,"x":0.5,"y":1.1,"z":0.35},{"t":980,"x":0.4,"y":1.0,"z":0.35},{"t":985,"x":0.3,"y":0.95,"z":0.3},
      {"t":990,"x":0.35,"y":0.9,"z":0.25},{"t":995,"x":0.3,"y":0.85,"z":0.2}
    ]
  },
  "config": {
    "view": {"stroke": "black", "strokeWidth": 0.8},
    "axis": {
      "grid": false, "domain": false, "tickColor": "black", "tickSize": 3.5, "tickWidth": 0.8,
      "labelFont": "DejaVu Sans", "labelFontSize": 9.4, "labelColor": "black", "labelPadding": 2,
      "labelFlush": false, "labelOverlap": false, "labelBound": false,
      "titleFont": "DejaVu Sans", "titleFontSize": 9.4, "titleFontWeight": "normal", "titleColor": "black"
    },
    "axisX": {"values": [0, 200, 400, 600, 800, 1000], "format": "d", "titlePadding": 2},
    "axisY": {"values": [-4, -2, 0, 2, 4], "format": "d", "titlePadding": 3},
    "title": {"font": "DejaVu Sans", "fontSize": 10.5, "fontWeight": "normal", "color": "black", "offset": 1},
    "line": {"strokeWidth": 1.4, "clip": true}
  },
  "spacing": -1,
  "vconcat": [
    {
      "spacing": 28,
      "bounds": "flush",
      "hconcat": [
        {"width": 140, "height": 107, "title": "Jog", "data": {"name": "jog"}, "mark": {"type": "line", "color": "#1f77b4"},
         "encoding": {"x": {"field": "t", "type": "quantitative", "scale": {"domain": [0, 1000], "nice": false}, "axis": {"title": null}},
                      "y": {"field": "x", "type": "quantitative", "scale": {"domain": [-4, 4]}, "axis": {"title": "G-force (x-axis)"}}}},
        {"width": 140, "height": 107, "title": "Walk", "data": {"name": "walk"}, "mark": {"type": "line", "color": "#1f77b4"},
         "encoding": {"x": {"field": "t", "type": "quantitative", "scale": {"domain": [0, 1000], "nice": false}, "axis": {"title": null}},
                      "y": {"field": "x", "type": "quantitative", "scale": {"domain": [-4, 4]}, "axis": {"title": null}}}},
        {"width": 140, "height": 107, "title": "Skip", "data": {"name": "skip"}, "mark": {"type": "line", "color": "#1f77b4"},
         "encoding": {"x": {"field": "t", "type": "quantitative", "scale": {"domain": [0, 1000], "nice": false}, "axis": {"title": null}},
                      "y": {"field": "x", "type": "quantitative", "scale": {"domain": [-4, 4]}, "axis": {"title": null}}}},
        {"width": 140, "height": 107, "title": "Stair up", "data": {"name": "stair"}, "mark": {"type": "line", "color": "#1f77b4"},
         "encoding": {"x": {"field": "t", "type": "quantitative", "scale": {"domain": [0, 1000], "nice": false}, "axis": {"title": null}},
                      "y": {"field": "x", "type": "quantitative", "scale": {"domain": [-4, 4]}, "axis": {"title": null}}}}
      ]
    },
    {
      "spacing": 28,
      "bounds": "flush",
      "hconcat": [
        {"width": 140, "height": 107, "data": {"name": "jog"}, "mark": {"type": "line", "color": "orange"},
         "encoding": {"x": {"field": "t", "type": "quantitative", "scale": {"domain": [0, 1000], "nice": false}, "axis": {"title": null}},
                      "y": {"field": "y", "type": "quantitative", "scale": {"domain": [-4, 4]}, "axis": {"title": "G-force (y-axis)"}}}},
        {"width": 140, "height": 107, "data": {"name": "walk"}, "mark": {"type": "line", "color": "orange"},
         "encoding": {"x": {"field": "t", "type": "quantitative", "scale": {"domain": [0, 1000], "nice": false}, "axis": {"title": null}},
                      "y": {"field": "y", "type": "quantitative", "scale": {"domain": [-4, 4]}, "axis": {"title": null}}}},
        {"width": 140, "height": 107, "data": {"name": "skip"}, "mark": {"type": "line", "color": "orange"},
         "encoding": {"x": {"field": "t", "type": "quantitative", "scale": {"domain": [0, 1000], "nice": false}, "axis": {"title": null}},
                      "y": {"field": "y", "type": "quantitative", "scale": {"domain": [-4, 4]}, "axis": {"title": null}}}},
        {"width": 140, "height": 107, "data": {"name": "stair"}, "mark": {"type": "line", "color": "orange"},
         "encoding": {"x": {"field": "t", "type": "quantitative", "scale": {"domain": [0, 1000], "nice": false}, "axis": {"title": null}},
                      "y": {"field": "y", "type": "quantitative", "scale": {"domain": [-4, 4]}, "axis": {"title": null}}}}
      ]
    },
    {
      "spacing": 28,
      "bounds": "flush",
      "hconcat": [
        {"width": 140, "height": 107, "data": {"name": "jog"}, "mark": {"type": "line", "color": "grey"},
         "encoding": {"x": {"field": "t", "type": "quantitative", "scale": {"domain": [0, 1000], "nice": false}, "axis": {"title": "time index"}},
                      "y": {"field": "z", "type": "quantitative", "scale": {"domain": [-4, 4]}, "axis": {"title": "G-force (z-axis)"}}}},
        {"width": 140, "height": 107, "data": {"name": "walk"}, "mark": {"type": "line", "color": "grey"},
         "encoding": {"x": {"field": "t", "type": "quantitative", "scale": {"domain": [0, 1000], "nice": false}, "axis": {"title": "time index"}},
                      "y": {"field": "z", "type": "quantitative", "scale": {"domain": [-4, 4]}, "axis": {"title": null}}}},
        {"width": 140, "height": 107, "data": {"name": "skip"}, "mark": {"type": "line", "color": "grey"},
         "encoding": {"x": {"field": "t", "type": "quantitative", "scale": {"domain": [0, 1000], "nice": false}, "axis": {"title": "time index"}},
                      "y": {"field": "z", "type": "quantitative", "scale": {"domain": [-4, 4]}, "axis": {"title": null}}}},
        {"width": 140, "height": 107, "data": {"name": "stair"}, "mark": {"type": "line", "color": "grey"},
         "encoding": {"x": {"field": "t", "type": "quantitative", "scale": {"domain": [0, 1000], "nice": false}, "axis": {"title": "time index"}},
                      "y": {"field": "z", "type": "quantitative", "scale": {"domain": [-4, 4]}, "axis": {"title": null}}}}
      ]
    }
  ]
}
